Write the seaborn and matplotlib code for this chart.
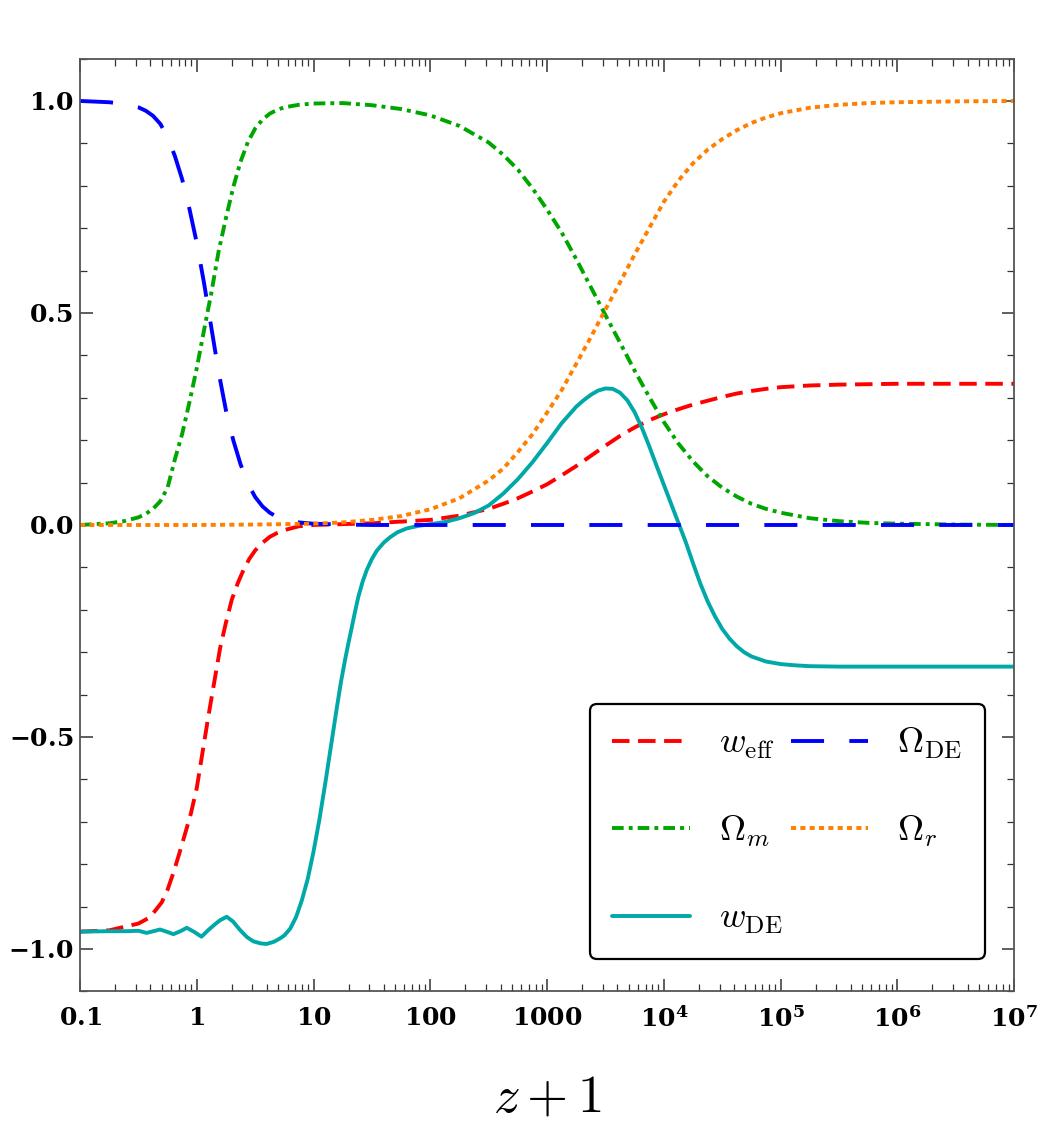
import numpy as np
import matplotlib
matplotlib.use("Agg")
import matplotlib.pyplot as plt
from matplotlib.font_manager import FontProperties
from matplotlib.ticker import FixedLocator, FixedFormatter, LogLocator, NullFormatter, MultipleLocator
import seaborn as sns

# log10(z+1) knots and the values
lg_de = [-1, -0.75, -0.625, -0.5, -0.4375, -0.375, -0.3125, -0.25, -0.1875, -0.125, -0.0625,
         0, 0.0625, 0.125, 0.1875, 0.25, 0.3125, 0.375, 0.4375, 0.5, 0.5625, 0.625, 0.6875,
         0.75, 0.875, 1.0, 1.25, 1.5, 2, 3, 4, 5, 6, 7]
omega_de = [1.0, 0.997, 0.993, 0.985, 0.977, 0.965, 0.946, 0.915, 0.87, 0.815, 0.745,
            0.665, 0.57, 0.465, 0.36, 0.27, 0.2, 0.143, 0.098, 0.066, 0.044, 0.029, 0.019,
            0.012, 0.006, 0.003, 0.001, 0, 0, 0, 0, 0, 0, 0]

lg_m = [-1, -0.75, -0.625, -0.5, -0.4375, -0.375, -0.3125, -0.25, -0.1875, -0.125, -0.0625,
        0, 0.0625, 0.125, 0.1875, 0.25, 0.3125, 0.375, 0.4375, 0.5, 0.5625, 0.625, 0.6875,
        0.75, 0.875, 1.0, 1.25, 1.5, 1.75, 2.0, 2.25, 2.5, 2.625, 2.75, 2.875, 3.0, 3.125,
        3.25, 3.375, 3.5, 3.625, 3.75, 3.875, 4.0, 4.125, 4.25, 4.375, 4.5, 4.625, 4.75,
        4.875, 5.0, 5.25, 5.5, 5.75, 6.0, 6.5, 7.0]
omega_m = [0.0, 0.004, 0.009, 0.018, 0.026, 0.038, 0.056, 0.088, 0.155, 0.215, 0.29,
           0.37, 0.46, 0.548, 0.646, 0.724, 0.797, 0.857, 0.903, 0.935, 0.956, 0.97, 0.979,
           0.985, 0.991, 0.994, 0.995, 0.99, 0.981, 0.966, 0.941, 0.902, 0.873, 0.838, 0.794,
           0.744, 0.69, 0.627, 0.561, 0.495, 0.43, 0.364, 0.302, 0.243, 0.192, 0.15, 0.115,
           0.088, 0.067, 0.05, 0.038, 0.029, 0.016, 0.009, 0.005, 0.003, 0.001, 0.0]

lg_r = [-1, 0.0, 0.5, 1.0, 1.25, 1.5, 1.75, 2.0, 2.25, 2.5, 2.625, 2.75, 2.875, 3.0, 3.125,
        3.25, 3.375, 3.5, 3.625, 3.75, 3.875, 4.0, 4.125, 4.25, 4.375, 4.5, 4.625, 4.75,
        4.875, 5.0, 5.25, 5.5, 5.75, 6.0, 6.5, 7.0]
omega_r = [0.0, 0.0, 0.001, 0.003, 0.006, 0.012, 0.021, 0.037, 0.063, 0.105, 0.133, 0.172,
           0.214, 0.265, 0.318, 0.38, 0.443, 0.508, 0.572, 0.638, 0.7, 0.762, 0.812, 0.853,
           0.885, 0.91, 0.931, 0.948, 0.961, 0.971, 0.984, 0.991, 0.995, 0.997, 0.999, 1.0]

lg_eff = [-1, -0.75, -0.5, -0.4, -0.3, -0.25, -0.2, -0.15, -0.1, -0.05, 0, 0.05, 0.1, 0.15,
          0.2, 0.25, 0.3, 0.35, 0.4, 0.45, 0.5, 0.5625, 0.625, 0.6875, 0.75, 0.875, 1.0,
          1.25, 1.5, 1.75, 2.0, 2.25, 2.5, 2.625, 2.75, 2.875, 3.0, 3.125, 3.25, 3.375, 3.5,
          3.625, 3.75, 3.875, 4.0, 4.125, 4.25, 4.375, 4.5, 4.625, 4.75, 4.875, 5.0, 5.25,
          5.5, 6.0, 7.0]
w_eff = [-0.959, -0.956, -0.94, -0.925, -0.89, -0.86, -0.82, -0.775, -0.728, -0.68, -0.62,
         -0.535, -0.45, -0.37, -0.29, -0.23, -0.176, -0.138, -0.106, -0.08, -0.06, -0.042,
         -0.028, -0.019, -0.012, -0.003, 0.0, 0.002, 0.004, 0.008, 0.012, 0.022, 0.038, 0.05,
         0.063, 0.079, 0.096, 0.117, 0.139, 0.163, 0.187, 0.21, 0.23, 0.247, 0.261, 0.273,
         0.284, 0.293, 0.302, 0.31, 0.316, 0.321, 0.325, 0.329, 0.331, 0.333, 0.333]

lg_wde = [-1, -0.75, -0.6, -0.5, -0.43, -0.37, -0.315, -0.26, -0.2, -0.14, -0.086, -0.02,
          0.04, 0.1, 0.15, 0.2, 0.256, 0.31, 0.37, 0.43, 0.485, 0.55, 0.6, 0.66, 0.713,
          0.75, 0.8, 0.85, 0.9, 0.95, 1.0, 1.05, 1.1, 1.15, 1.2, 1.235, 1.27, 1.3, 1.327,
          1.355, 1.384, 1.42, 1.456, 1.5, 1.541, 1.6, 1.655, 1.72, 1.8, 1.9, 2.0, 2.125,
          2.25, 2.375, 2.5, 2.625, 2.75, 2.875, 3.0, 3.125, 3.25, 3.3125, 3.375, 3.4375,
          3.5, 3.5625, 3.625, 3.6875, 3.75, 3.8125, 3.875, 3.9375, 4.0, 4.0625, 4.125,
          4.1875, 4.25, 4.3125, 4.375, 4.4375, 4.5, 4.5625, 4.625, 4.6875, 4.75, 4.875,
          5.0, 5.125, 5.25, 5.5, 6.0, 7.0]
w_de = [-0.959, -0.958, -0.958, -0.957, -0.962, -0.958, -0.954, -0.959, -0.965, -0.958,
        -0.95, -0.96, -0.971, -0.955, -0.943, -0.932, -0.924, -0.935, -0.955, -0.972,
        -0.982, -0.987, -0.988, -0.983, -0.975, -0.968, -0.952, -0.925, -0.885, -0.835,
        -0.77, -0.695, -0.61, -0.52, -0.43, -0.37, -0.318, -0.277, -0.242, -0.205, -0.169,
        -0.134, -0.106, -0.08, -0.061, -0.042, -0.029, -0.017, -0.008, -0.002, 0.002, 0.007,
        0.016, 0.028, 0.046, 0.074, 0.108, 0.148, 0.193, 0.24, 0.279, 0.294, 0.307, 0.317,
        0.322, 0.321, 0.312, 0.294, 0.266, 0.229, 0.186, 0.14, 0.095, 0.05, 0.005, -0.04,
        -0.09, -0.138, -0.18, -0.215, -0.245, -0.268, -0.286, -0.3, -0.31, -0.322, -0.328,
        -0.331, -0.333, -0.334, -0.334, -0.334]

sns.set_style("ticks")
# tick labels: bold serif through mathtext; legend and axis label use Computer Modern
plt.rcParams["mathtext.fontset"] = "custom"
plt.rcParams["mathtext.rm"] = "DejaVu Serif:bold"
plt.rcParams["mathtext.bf"] = "DejaVu Serif:bold"
plt.rcParams["mathtext.it"] = "DejaVu Serif:bold"
plt.rcParams["font.family"] = ["DejaVu Serif"]

fig = plt.figure(figsize=(10.42, 11.46), dpi=100)
ax = fig.add_axes([0.0768, 0.1349, 0.8964, 0.814])

lw = 2.8
series = [
    (lg_eff, w_eff, (0, (4.5, 2.2)), "#FF0000", r"$w_{\rm eff}$"),
    (lg_m, omega_m, (0, (3.0, 1.3, 1.0, 1.3)), "#00A600", r"$\Omega_m$"),
    (lg_wde, w_de, "-", "#00A8A8", r"$w_{\rm DE}$"),
    (lg_de, omega_de, (0, (8.5, 6.5)), "#0000FF", r"$\Omega_{\rm DE}$"),
    (lg_r, omega_r, (0, (1.3, 1.1)), "#FF8000", r"$\Omega_r$"),
]
handles = []
for lg, vals, ls, col, lab in series:
    sns.lineplot(x=10.0 ** np.array(lg), y=vals, ax=ax, color=col, lw=lw,
                 linestyle=ls, sort=False, estimator=None)
    line = ax.lines[-1]
    line.set_label(lab)
    line.set_dash_capstyle("butt")
    handles.append(line)

ax.set_xscale("log")
ax.set_xlim(0.1, 1e7)
ax.set_ylim(-1.1, 1.1)

xt = [0.1, 1, 10, 100, 1000, 1e4, 1e5, 1e6, 1e7]
xt_labels = [r"$\mathbf{0.1}$", r"$\mathbf{1}$", r"$\mathbf{10}$", r"$\mathbf{100}$",
             r"$\mathbf{1000}$", r"$\mathbf{10^{4}}$", r"$\mathbf{10^{5}}$",
             r"$\mathbf{10^{6}}$", r"$\mathbf{10^{7}}$"]
yt = [-1.0, -0.5, 0.0, 0.5, 1.0]
yt_labels = [r"$\mathbf{-1.0}$", r"$\mathbf{-0.5}$", r"$\mathbf{0.0}$",
             r"$\mathbf{0.5}$", r"$\mathbf{1.0}$"]
ax.xaxis.set_major_locator(FixedLocator(xt))
ax.xaxis.set_major_formatter(FixedFormatter(xt_labels))
ax.xaxis.set_minor_locator(LogLocator(base=10, subs=np.arange(2, 10), numticks=20))
ax.xaxis.set_minor_formatter(NullFormatter())
ax.yaxis.set_major_locator(FixedLocator(yt))
ax.yaxis.set_major_formatter(FixedFormatter(yt_labels))
ax.yaxis.set_minor_locator(MultipleLocator(0.1))

ax.tick_params(which="both", direction="in", top=True, right=True, labelsize=18,
               color="#333333", labelcolor="black")
ax.tick_params(which="major", length=9, width=1.1)
ax.tick_params(axis="y", which="major", pad=5)
ax.tick_params(axis="x", which="major", pad=11)
ax.tick_params(which="minor", length=5, width=0.9)
for s in ax.spines.values():
    s.set_color("#555555")
    s.set_linewidth(1.3)

ax.set_xlabel(r"$z+1$", fontsize=38, labelpad=28, math_fontfamily="cm", color="black")
ax.set_ylabel("")

leg_font = FontProperties(size=26, math_fontfamily="cm")
leg = ax.legend(handles=handles, ncol=2, loc="lower left",
                bbox_to_anchor=(0.546, 0.035, 0.423, 0.275), mode="expand",
                borderaxespad=0, prop=leg_font, handlelength=2.15, handletextpad=0.8,
                labelspacing=1.45, borderpad=0.62, fancybox=True, framealpha=1,
                edgecolor="black")
leg.get_frame().set_linewidth(1.6)
for t in leg.get_texts():
    t.set_color("black")

fig.savefig("out.png", dpi=100, facecolor="white")
